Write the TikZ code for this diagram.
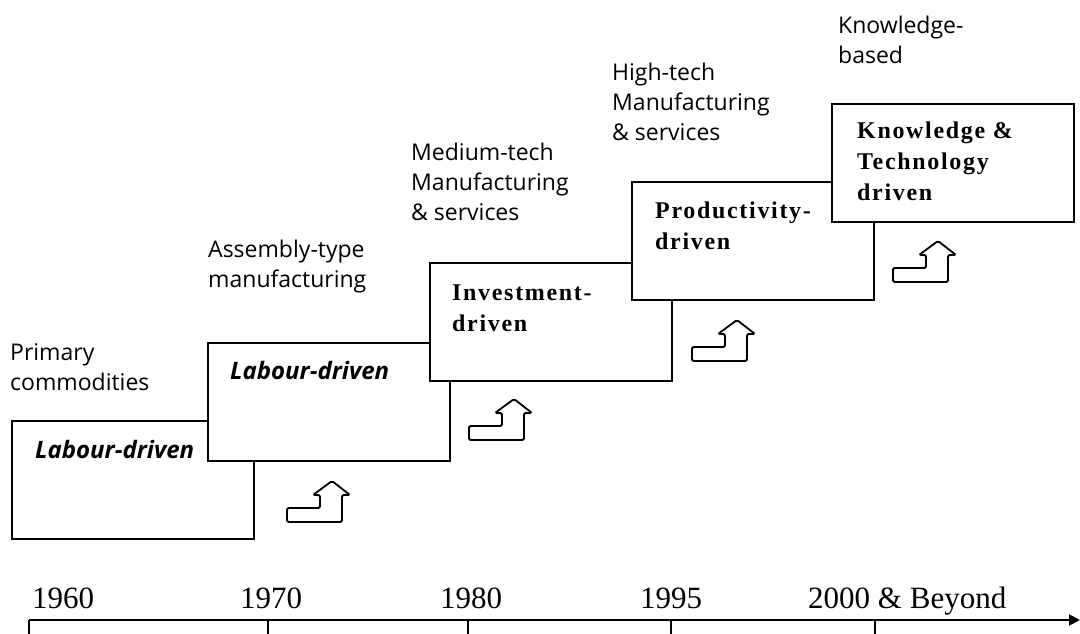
\documentclass[tikz,border=0pt]{standalone}
\usepackage{fontspec}
\setmainfont{Liberation Serif}
\newfontfamily\labelfont{Open Sans}
\newfontfamily\stagefont[LetterSpace=7]{Liberation Serif}
\usetikzlibrary{arrows.meta}
\tikzset{
	stagebox/.style={draw, line width=2.1pt, fill=white, inner sep=0pt, minimum width=242pt, minimum height=118pt},
	stagetext/.style={anchor=base west, inner sep=0pt, align=left, font=\stagefont\fontsize{24}{31}\selectfont\bfseries},
	labourtext/.style={anchor=base west, inner sep=0pt, font=\labelfont\fontsize{24}{30}\selectfont\bfseries\itshape},
	sectortext/.style={anchor=base west, inner sep=0pt, align=left, font=\labelfont\fontsize{23}{30}\selectfont},
	yeartext/.style={anchor=base west, inner sep=0pt, font=\fontsize{31}{36}\selectfont},
	arrowline/.style={line width=1.8pt, rounded corners=1.5pt, fill=white}
}
\def\steparrow(#1,#2){\draw[arrowline, shift={(#1,#2)}] (0,0) -- (55,0) -- (55,-27) -- (63,-27) -- (45,-41) -- (26,-27) -- (33,-27) -- (33,-14) -- (0,-14) -- cycle;}

\begin{document}
\begin{tikzpicture}[x=1pt, y=-1pt]
				\useasboundingbox (0,0) rectangle (1080,634);
				
				\node[stagebox] (s1) at (133,480) {};
				\node[stagebox] (s2) at (329,402) {};
				\node[stagebox] (s3) at (551,322) {};
				\node[stagebox] (s4) at (753,241) {};
				\node[stagebox] (s5) at (953,163) {};
				
				\node[labourtext] (t1) at (35,458) {Labour-driven};
				\node[labourtext] (t2) at (230,379) {Labour-driven};
				\node[stagetext] (t3) at (452,331) {Investment-\\driven};
				\node[stagetext] (t4) at (655,249) {Productivity-\\driven};
				\node[stagetext] (t5) at (857,200) {Knowledge \&\\Technology\\driven};
				
				\node[sectortext] (p1) at (10,390) {Primary\\commodities};
				\node[sectortext] (p2) at (208,287) {Assembly-type\\manufacturing};
				\node[sectortext] (p3) at (411,220) {Medium-tech\\Manufacturing\\\& services};
				\node[sectortext] (p4) at (612,140) {High-tech\\Manufacturing\\\& services};
				\node[sectortext] (p5) at (838,64) {Knowledge-\\based};
				
				\steparrow(287,522)
				\steparrow(469,440)
				\steparrow(692,361)
				\steparrow(893,282)
				
				\coordinate (t0) at (29,620);
				\coordinate (tend) at (1080,620);
				\draw[line width=2.2pt, -{Triangle[length=11pt, width=11pt]}] (t0) -- (tend);
				\foreach \x in {29,268,468,671,875}
					\draw[line width=1.4pt] (\x,620) -- (\x,634);
				
				\node[yeartext] (y1) at (32,608) {1960};
				\node[yeartext] (y2) at (240,608) {1970};
				\node[yeartext] (y3) at (440,608) {1980};
				\node[yeartext] (y4) at (640,608) {1995};
				\node[yeartext] (y5) at (808,608) {2000 \& Beyond};
\end{tikzpicture}
\end{document}
